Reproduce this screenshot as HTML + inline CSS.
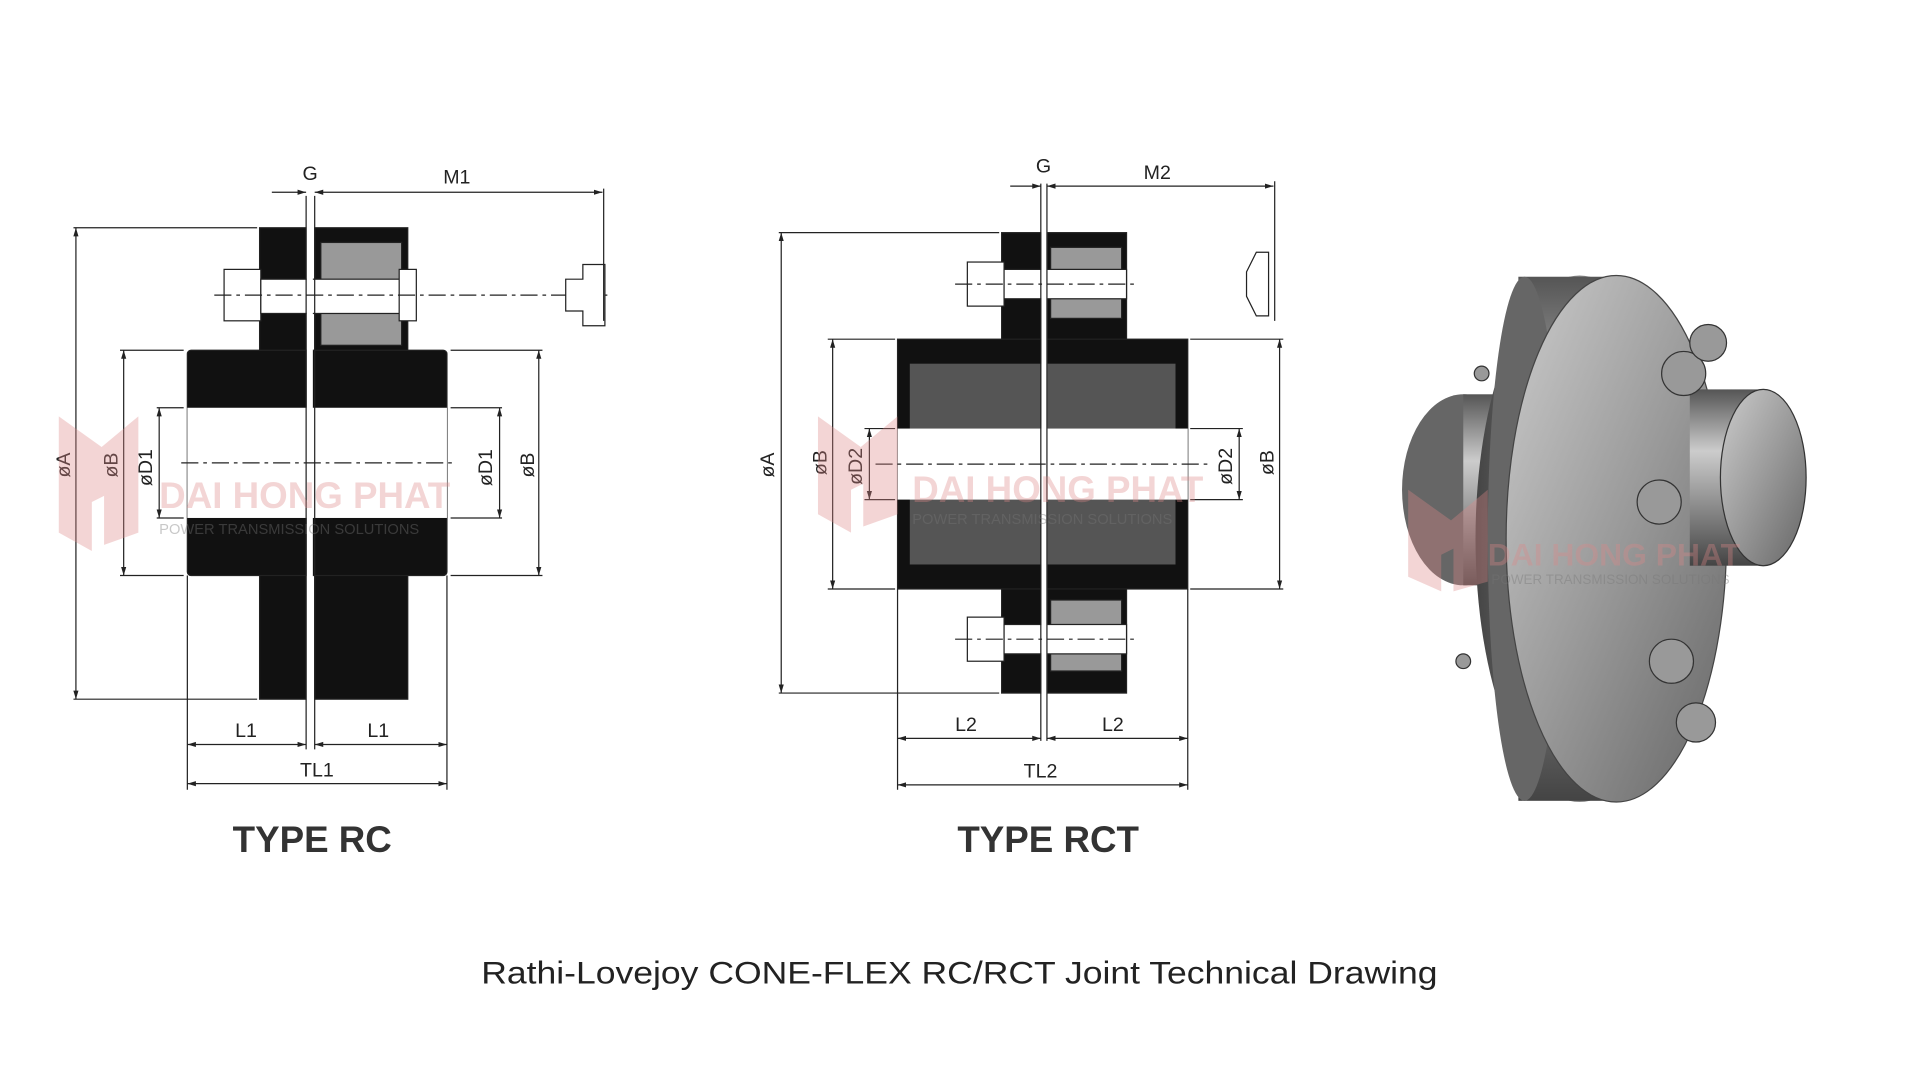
<!DOCTYPE html>
<html><head><meta charset="utf-8"><style>
html,body{margin:0;padding:0;background:#fff;width:1920px;height:1080px;overflow:hidden}
svg{display:block}
text{font-family:"Liberation Sans",sans-serif}
</style></head><body>
<svg width="1920" height="1080" viewBox="0 0 1568 882" xmlns="http://www.w3.org/2000/svg">
<defs>
<marker id="ar" viewBox="0 0 10 10" refX="10" refY="5" markerWidth="7" markerHeight="7" orient="auto-start-reverse"><path d="M0,2 L10,5 L0,8z" fill="#222"/></marker>
<linearGradient id="cyl" x1="0" y1="0" x2="0" y2="1"><stop offset="0" stop-color="#555"/><stop offset=".35" stop-color="#ccc"/><stop offset=".6" stop-color="#999"/><stop offset="1" stop-color="#444"/></linearGradient>
<linearGradient id="face" x1="0" y1="0" x2="1" y2="1"><stop offset="0" stop-color="#ccc"/><stop offset=".5" stop-color="#9a9a9a"/><stop offset="1" stop-color="#666"/></linearGradient>
<linearGradient id="rim" x1="0" y1="0" x2="1" y2="0"><stop offset="0" stop-color="#444"/><stop offset=".5" stop-color="#888"/><stop offset="1" stop-color="#555"/></linearGradient>
</defs>
<g stroke="#222" stroke-width="1" fill="none">
<rect x="212" y="186" width="38" height="385" fill="#111"/>
<rect x="257" y="186" width="76" height="385" fill="#111"/>
<rect x="153" y="286" width="212" height="184" fill="#111" rx="3"/>
<rect x="153" y="333" width="212" height="90" fill="#fff" stroke="none"/>
<rect x="262" y="198" width="66" height="32" fill="#999"/>
<rect x="262" y="252" width="66" height="30" fill="#999"/>
<rect x="183" y="220" width="30" height="42" fill="#fff"/>
<rect x="213" y="228" width="115" height="28" fill="#fff"/>
<rect x="326" y="220" width="14" height="42" fill="#fff"/>
<line x1="253" y1="160" x2="253" y2="575" stroke="#fff" stroke-width="5"/>
<line x1="250" y1="160" x2="250" y2="612"/><line x1="257" y1="160" x2="257" y2="612"/>
<line x1="175" y1="241" x2="500" y2="241" stroke-dasharray="14,4,3,4"/>
<line x1="148" y1="378" x2="370" y2="378" stroke-dasharray="14,4,3,4"/>
<path d="M462,228 h14 v-12 h18 v50 h-18 v-12 h-14z" fill="#fff"/>
<line x1="62" y1="186" x2="62" y2="571" marker-start="url(#ar)" marker-end="url(#ar)"/>
<line x1="60" y1="186" x2="210" y2="186"/><line x1="60" y1="571" x2="210" y2="571"/>
<line x1="101" y1="286" x2="101" y2="470" marker-start="url(#ar)" marker-end="url(#ar)"/>
<line x1="98" y1="286" x2="150" y2="286"/><line x1="98" y1="470" x2="150" y2="470"/>
<line x1="130" y1="333" x2="130" y2="423" marker-start="url(#ar)" marker-end="url(#ar)"/>
<line x1="128" y1="333" x2="150" y2="333"/><line x1="128" y1="423" x2="150" y2="423"/>
<line x1="408" y1="333" x2="408" y2="423" marker-start="url(#ar)" marker-end="url(#ar)"/>
<line x1="368" y1="333" x2="410" y2="333"/><line x1="368" y1="423" x2="410" y2="423"/>
<line x1="440" y1="286" x2="440" y2="470" marker-start="url(#ar)" marker-end="url(#ar)"/>
<line x1="368" y1="286" x2="443" y2="286"/><line x1="368" y1="470" x2="443" y2="470"/>
<line x1="257" y1="157" x2="492" y2="157" marker-start="url(#ar)" marker-end="url(#ar)"/>
<line x1="493" y1="154" x2="493" y2="262"/>
<line x1="222" y1="157" x2="250" y2="157" marker-end="url(#ar)"/>
<line x1="153" y1="470" x2="153" y2="645"/><line x1="365" y1="470" x2="365" y2="645"/>
<line x1="153" y1="608" x2="250" y2="608" marker-start="url(#ar)" marker-end="url(#ar)"/>
<line x1="257" y1="608" x2="365" y2="608" marker-start="url(#ar)" marker-end="url(#ar)"/>
<line x1="153" y1="640" x2="365" y2="640" marker-start="url(#ar)" marker-end="url(#ar)"/>
<rect x="818" y="190" width="32" height="376" fill="#111"/>
<rect x="855" y="190" width="65" height="376" fill="#111"/>
<rect x="733" y="277" width="237" height="204" fill="#111"/>
<rect x="743" y="297" width="217" height="164" fill="#555" stroke="none"/>
<rect x="733" y="350" width="237" height="58" fill="#fff" stroke="none"/>
<rect x="858" y="202" width="58" height="58" fill="#999"/>
<rect x="858" y="490" width="58" height="58" fill="#999"/>
<rect x="790" y="214" width="30" height="36" fill="#fff"/><rect x="820" y="220" width="100" height="24" fill="#fff"/>
<rect x="790" y="504" width="30" height="36" fill="#fff"/><rect x="820" y="510" width="100" height="24" fill="#fff"/>
<line x1="853" y1="150" x2="853" y2="605" stroke="#fff" stroke-width="5"/>
<line x1="850" y1="150" x2="850" y2="605"/><line x1="855" y1="150" x2="855" y2="605"/>
<line x1="780" y1="232" x2="930" y2="232" stroke-dasharray="14,4,3,4"/>
<line x1="780" y1="522" x2="930" y2="522" stroke-dasharray="14,4,3,4"/>
<line x1="715" y1="379" x2="990" y2="379" stroke-dasharray="14,4,3,4"/>
<path d="M1018,222 l8,-16 h10 v52 h-10 l-8,-16z" fill="#fff"/>
<line x1="638" y1="190" x2="638" y2="566" marker-start="url(#ar)" marker-end="url(#ar)"/>
<line x1="636" y1="190" x2="816" y2="190"/><line x1="636" y1="566" x2="816" y2="566"/>
<line x1="680" y1="277" x2="680" y2="481" marker-start="url(#ar)" marker-end="url(#ar)"/>
<line x1="676" y1="277" x2="731" y2="277"/><line x1="676" y1="481" x2="731" y2="481"/>
<line x1="710" y1="350" x2="710" y2="408" marker-start="url(#ar)" marker-end="url(#ar)"/>
<line x1="706" y1="350" x2="731" y2="350"/><line x1="706" y1="408" x2="731" y2="408"/>
<line x1="1012" y1="350" x2="1012" y2="408" marker-start="url(#ar)" marker-end="url(#ar)"/>
<line x1="972" y1="350" x2="1015" y2="350"/><line x1="972" y1="408" x2="1015" y2="408"/>
<line x1="1045" y1="277" x2="1045" y2="481" marker-start="url(#ar)" marker-end="url(#ar)"/>
<line x1="972" y1="277" x2="1048" y2="277"/><line x1="972" y1="481" x2="1048" y2="481"/>
<line x1="855" y1="152" x2="1040" y2="152" marker-start="url(#ar)" marker-end="url(#ar)"/>
<line x1="1041" y1="148" x2="1041" y2="262"/>
<line x1="825" y1="152" x2="850" y2="152" marker-end="url(#ar)"/>
<line x1="733" y1="481" x2="733" y2="645"/><line x1="970" y1="481" x2="970" y2="645"/>
<line x1="733" y1="603" x2="850" y2="603" marker-start="url(#ar)" marker-end="url(#ar)"/>
<line x1="855" y1="603" x2="970" y2="603" marker-start="url(#ar)" marker-end="url(#ar)"/>
<line x1="733" y1="641" x2="970" y2="641" marker-start="url(#ar)" marker-end="url(#ar)"/>
</g>
<g font-size="16" fill="#222">
<text x="247" y="147">G</text><text x="362" y="150">M1</text>
<text x="192" y="602">L1</text><text x="300" y="602">L1</text><text x="245" y="634">TL1</text>
<text x="846" y="141">G</text><text x="934" y="146">M2</text>
<text x="780" y="597">L2</text><text x="900" y="597">L2</text><text x="836" y="635">TL2</text>
<text transform="translate(57,390) rotate(-90)">øA</text>
<text transform="translate(96,390) rotate(-90)">øB</text>
<text transform="translate(124,397) rotate(-90)">øD1</text>
<text transform="translate(402,397) rotate(-90)">øD1</text>
<text transform="translate(436,390) rotate(-90)">øB</text>
<text transform="translate(632,390) rotate(-90)">øA</text>
<text transform="translate(675,388) rotate(-90)">øB</text>
<text transform="translate(704,396) rotate(-90)">øD2</text>
<text transform="translate(1006,396) rotate(-90)">øD2</text>
<text transform="translate(1040,388) rotate(-90)">øB</text>
</g>
<text x="255" y="696" font-size="30" font-weight="bold" text-anchor="middle" fill="#333">TYPE RC</text>
<text x="856" y="696" font-size="30" font-weight="bold" text-anchor="middle" fill="#333">TYPE RCT</text>
<g>
<ellipse cx="1195" cy="400" rx="50" ry="78" fill="#666"/>
<rect x="1195" y="322" width="60" height="156" fill="url(#cyl)"/>
<ellipse cx="1290" cy="440" rx="85" ry="215" fill="url(#rim)"/>
<rect x="1240" y="226" width="70" height="428" fill="url(#cyl)"/>
<ellipse cx="1245" cy="440" rx="30" ry="214" fill="#666"/>
<ellipse cx="1320" cy="440" rx="90" ry="215" fill="url(#face)" stroke="#444"/>
<rect x="1380" y="318" width="60" height="144" fill="url(#cyl)"/>
<ellipse cx="1440" cy="390" rx="35" ry="72" fill="url(#face)" stroke="#333"/>
<g fill="#999" stroke="#333">
<circle cx="1375" cy="305" r="18"/><circle cx="1395" cy="280" r="15"/><circle cx="1355" cy="410" r="18"/>
<circle cx="1365" cy="540" r="18"/><circle cx="1385" cy="590" r="16"/><circle cx="1210" cy="305" r="6"/><circle cx="1195" cy="540" r="6"/>
</g>
</g>
<g opacity="0.35" fill="#d88">
<path d="M48,340 l35,25 l30,-25 v95 l-28,10 v-40 l-10,5 v40 l-27,-15z"/>
<path d="M668,340 l35,25 l30,-25 v80 l-28,10 v-35 l-10,5 v35 l-27,-15z"/>
<path d="M1150,400 l35,25 l30,-25 v75 l-28,8 v-35 l-10,5 v30 l-27,-12z"/>
<text x="130" y="415" font-size="30" font-weight="bold">DAI HONG PHAT</text>
<text x="745" y="410" font-size="30" font-weight="bold">DAI HONG PHAT</text>
<text x="1215" y="462" font-size="26" font-weight="bold">DAI HONG PHAT</text>
</g>
<g opacity="0.4" fill="#777" font-size="12">
<text x="130" y="436">POWER TRANSMISSION SOLUTIONS</text>
<text x="745" y="428">POWER TRANSMISSION SOLUTIONS</text>
<text x="1218" y="477" font-size="11">POWER TRANSMISSION SOLUTIONS</text>
</g>
<text x="393" y="803" font-size="26" textLength="781" lengthAdjust="spacingAndGlyphs" fill="#222">Rathi-Lovejoy CONE-FLEX RC/RCT Joint Technical Drawing</text>
</svg>
</body></html>
